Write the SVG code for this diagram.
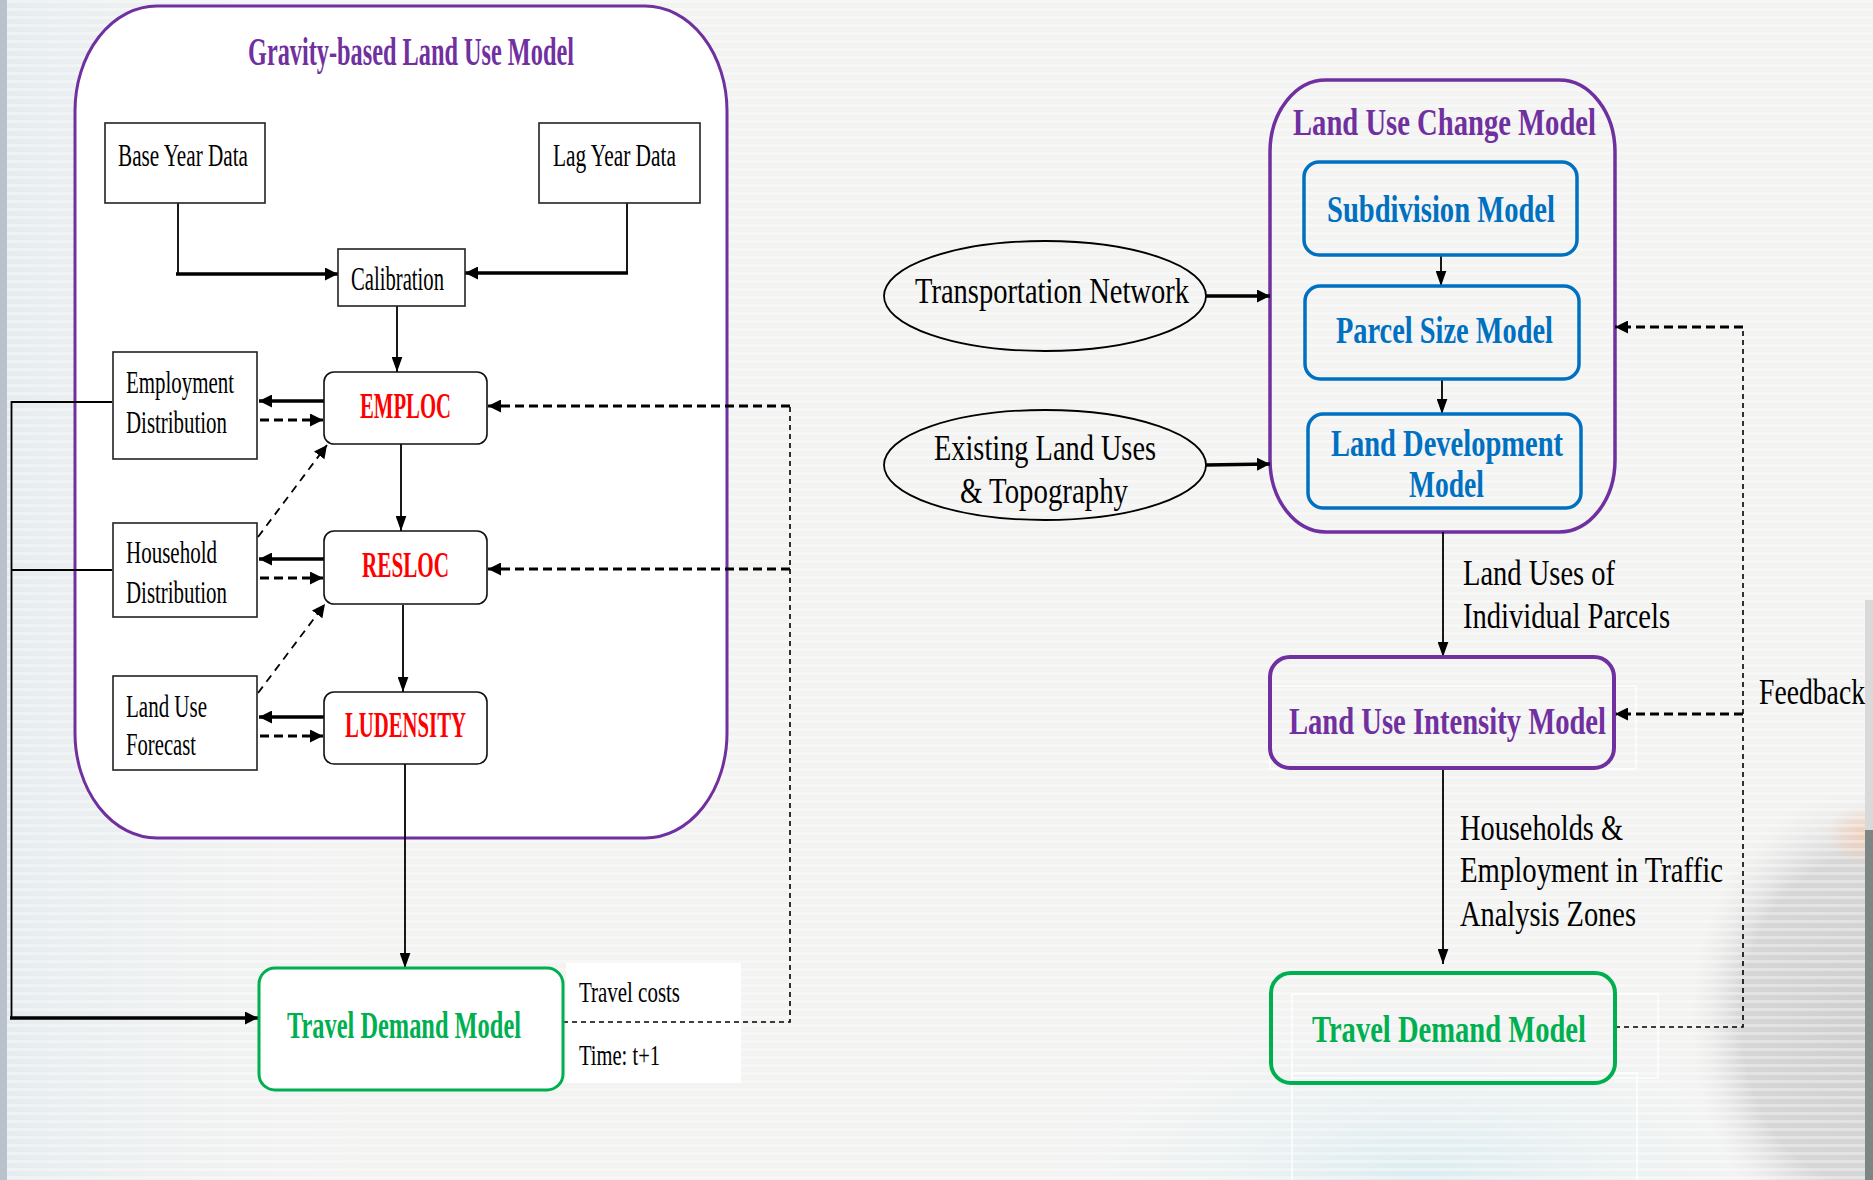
<svg xmlns="http://www.w3.org/2000/svg" width="1873" height="1180" viewBox="0 0 1873 1180">
<style>
.t{font-family:"Liberation Serif","Times New Roman",serif;fill:#000}
.b{font-weight:bold}
.pu{fill:#7030A0}.rd{fill:#FF0000}.gr{fill:#00B050}.bl{fill:#0070C0}
.box{fill:#fff;stroke:#222;stroke-width:1.6}
.rbox{fill:#fff;stroke:#111;stroke-width:1.6}
.ln{stroke:#000;stroke-width:1.8;fill:none}
.thk{stroke-width:3.6}
.dsh{stroke-dasharray:9 5;stroke-width:3}
.dia{stroke-dasharray:8 6;stroke-width:1.8}
.tds{stroke-dasharray:5 4;stroke-width:1.6}
.art{fill:none;stroke:#fff;stroke-width:1.5;opacity:0.9}
</style>
<defs>
<marker id="a" viewBox="0 0 12 12" refX="12" refY="6" markerWidth="13" markerHeight="13" markerUnits="userSpaceOnUse" orient="auto"><path d="M0,0 L12,6 L0,12 z" fill="#000"/></marker>
<marker id="v" viewBox="0 0 14 10" refX="14" refY="5" markerWidth="15" markerHeight="11" markerUnits="userSpaceOnUse" orient="auto"><path d="M0,0 L14,5 L0,10 z" fill="#000"/></marker>
<linearGradient id="lg" x1="0" y1="0" x2="1" y2="0">
<stop offset="0" stop-color="#e6ecef"/><stop offset="1" stop-color="#f3f3f2" stop-opacity="0"/>
</linearGradient>
<radialGradient id="blob" cx="0.5" cy="0.5" r="0.5">
<stop offset="0" stop-color="#cfcfcf"/><stop offset="0.7" stop-color="#d6d6d6"/><stop offset="1" stop-color="#e6e6e6" stop-opacity="0"/>
</radialGradient>
<radialGradient id="org" cx="0.5" cy="0.5" r="0.5">
<stop offset="0" stop-color="#f4c4a8"/><stop offset="1" stop-color="#f4c4a8" stop-opacity="0"/>
</radialGradient>
<radialGradient id="cy" cx="0.5" cy="0.5" r="0.5">
<stop offset="0" stop-color="#dcecf0"/><stop offset="1" stop-color="#eef3f3" stop-opacity="0"/>
</radialGradient>
<pattern id="scan" width="8" height="8" patternUnits="userSpaceOnUse"><rect width="8" height="3" fill="#ffffff" opacity="0.35"/></pattern>
</defs>

<g id="background">
<rect width="1873" height="1180" fill="#f3f3f2"/>
<rect width="420" height="1180" fill="url(#lg)"/>
<ellipse cx="1420" cy="1180" rx="380" ry="180" fill="url(#cy)"/>
<ellipse cx="1860" cy="1020" rx="170" ry="230" fill="url(#blob)"/>
<ellipse cx="1862" cy="835" rx="35" ry="30" fill="url(#org)" opacity="0.7"/>
<rect width="1873" height="1180" fill="url(#scan)"/>
<rect x="0" y="0" width="7" height="1180" fill="#b9c2ca"/>
<rect x="1865" y="600" width="8" height="230" fill="#d9d9d9"/>
<rect x="1865" y="830" width="8" height="350" fill="#7e8585"/>
</g>

<g id="gravity-container">
<rect x="75" y="6" width="652" height="832" rx="82" ry="105" fill="#fff" stroke="#7030A0" stroke-width="3"/>
<text class="t b pu" x="248" y="65" font-size="40" textLength="326" lengthAdjust="spacingAndGlyphs">Gravity-based Land Use Model</text>
</g>

<g id="landuse-change-container">
<rect x="1270" y="80" width="345" height="452" rx="56" ry="72" fill="none" stroke="#7030A0" stroke-width="3.5"/>
<text class="t b pu" x="1293" y="135" font-size="38" textLength="303" lengthAdjust="spacingAndGlyphs">Land Use Change Model</text>
</g>

<g id="artifacts">
<rect x="566" y="963" width="175" height="120" fill="#fff"/>
<rect class="art" x="1270" y="686" width="366" height="83"/>
<rect class="art" x="1292" y="994" width="366" height="84"/>
<rect class="art" x="1292" y="1073" width="345" height="120"/>
</g>

<g id="connectors">
<path class="ln" d="M178,203 V274"/>
<path class="ln thk" d="M176,274 H338" marker-end="url(#a)"/>
<path class="ln" d="M627,203 V273"/>
<path class="ln thk" d="M628,273 H465" marker-end="url(#a)"/>
<path class="ln" d="M397,306 V372" marker-end="url(#v)"/>
<path class="ln thk" d="M324,401 H259" marker-end="url(#a)"/>
<path class="ln dsh" d="M260,420 H323" marker-end="url(#a)"/>
<path class="ln thk" d="M324,559 H259" marker-end="url(#a)"/>
<path class="ln dsh" d="M260,578 H323" marker-end="url(#a)"/>
<path class="ln thk" d="M324,717 H259" marker-end="url(#a)"/>
<path class="ln dsh" d="M260,736 H323" marker-end="url(#a)"/>
<path class="ln dia" d="M258,537 L327,445" marker-end="url(#a)"/>
<path class="ln dia" d="M258,693 L325,604" marker-end="url(#a)"/>
<path class="ln" d="M401,444 V531" marker-end="url(#v)"/>
<path class="ln" d="M403,605 V692" marker-end="url(#v)"/>
<path class="ln" d="M405,764 V968" marker-end="url(#v)"/>
<path class="ln" d="M112,402 H11.5 V1018"/>
<path class="ln" d="M112,570 H11.5"/>
<path class="ln thk" d="M10,1018 H258" marker-end="url(#a)"/>
<path class="ln tds" d="M563,1022 H790 V406"/>
<path class="ln dsh" d="M790,406 H488" marker-end="url(#a)"/>
<path class="ln dsh" d="M790,569 H488" marker-end="url(#a)"/>

<path class="ln thk" d="M1206,296 H1270" marker-end="url(#a)"/>
<path class="ln thk" d="M1206,465 L1270,464" marker-end="url(#a)"/>
<path class="ln" d="M1441,255 V286" marker-end="url(#v)"/>
<path class="ln" d="M1442,379 V414" marker-end="url(#v)"/>
<path class="ln" d="M1443,532 V657" marker-end="url(#v)"/>
<path class="ln" d="M1443,768 V964" marker-end="url(#v)"/>
<path class="ln tds" d="M1615,1027 H1743 V327"/>
<path class="ln dsh" d="M1743,327 H1615" marker-end="url(#a)"/>
<path class="ln dsh" d="M1743,714 H1615" marker-end="url(#a)"/>
</g>

<g id="base-year-data">
<rect class="box" x="105" y="123" width="160" height="80"/>
<text class="t" x="118" y="166" font-size="32" textLength="130" lengthAdjust="spacingAndGlyphs">Base Year Data</text>
</g>
<g id="lag-year-data">
<rect class="box" x="539" y="123" width="161" height="80"/>
<text class="t" x="553" y="166" font-size="32" textLength="123" lengthAdjust="spacingAndGlyphs">Lag Year Data</text>
</g>
<g id="calibration">
<rect class="box" x="338" y="249" width="127" height="57"/>
<text class="t" x="351" y="290" font-size="33" textLength="93" lengthAdjust="spacingAndGlyphs">Calibration</text>
</g>
<g id="employment-distribution">
<rect class="box" x="113" y="352" width="144" height="107"/>
<text class="t" x="126" y="393" font-size="32" textLength="108" lengthAdjust="spacingAndGlyphs">Employment</text>
<text class="t" x="126" y="433" font-size="32" textLength="101" lengthAdjust="spacingAndGlyphs">Distribution</text>
</g>
<g id="household-distribution">
<rect class="box" x="113" y="523" width="144" height="94"/>
<text class="t" x="126" y="563" font-size="32" textLength="91" lengthAdjust="spacingAndGlyphs">Household</text>
<text class="t" x="126" y="603" font-size="32" textLength="101" lengthAdjust="spacingAndGlyphs">Distribution</text>
</g>
<g id="land-use-forecast">
<rect class="box" x="113" y="676" width="144" height="94"/>
<text class="t" x="126" y="717" font-size="32" textLength="81" lengthAdjust="spacingAndGlyphs">Land Use</text>
<text class="t" x="126" y="755" font-size="32" textLength="70" lengthAdjust="spacingAndGlyphs">Forecast</text>
</g>
<g id="emploc">
<rect class="rbox" x="324" y="372" width="163" height="72" rx="10"/>
<text class="t b rd" x="360" y="418" font-size="35" textLength="91" lengthAdjust="spacingAndGlyphs">EMPLOC</text>
</g>
<g id="resloc">
<rect class="rbox" x="324" y="531" width="163" height="73" rx="10"/>
<text class="t b rd" x="362" y="577" font-size="35" textLength="87" lengthAdjust="spacingAndGlyphs">RESLOC</text>
</g>
<g id="ludensity">
<rect class="rbox" x="324" y="692" width="163" height="72" rx="10"/>
<text class="t b rd" x="345" y="737" font-size="35" textLength="121" lengthAdjust="spacingAndGlyphs">LUDENSITY</text>
</g>
<g id="travel-demand-left">
<rect x="259" y="968" width="304" height="122" rx="16" fill="#fff" stroke="#00B050" stroke-width="3"/>
<text class="t b gr" x="287" y="1038" font-size="37" textLength="234" lengthAdjust="spacingAndGlyphs">Travel Demand Model</text>
</g>
<g id="travel-costs-label">
<text class="t" x="579" y="1002" font-size="30" textLength="101" lengthAdjust="spacingAndGlyphs">Travel costs</text>
<text class="t" x="579" y="1065" font-size="30" textLength="81" lengthAdjust="spacingAndGlyphs">Time: t+1</text>
</g>

<g id="transportation-network">
<ellipse cx="1045" cy="296" rx="161" ry="55" fill="none" stroke="#000" stroke-width="1.8"/>
<text class="t" x="915" y="303" font-size="35" textLength="274" lengthAdjust="spacingAndGlyphs">Transportation Network</text>
</g>
<g id="existing-land-uses">
<ellipse cx="1045" cy="465" rx="161" ry="55" fill="none" stroke="#000" stroke-width="1.8"/>
<text class="t" x="934" y="460" font-size="35" textLength="222" lengthAdjust="spacingAndGlyphs">Existing Land Uses</text>
<text class="t" x="960" y="503" font-size="35" textLength="168" lengthAdjust="spacingAndGlyphs">&amp; Topography</text>
</g>
<g id="subdivision-model">
<rect x="1304" y="162" width="273" height="93" rx="15" fill="none" stroke="#0070C0" stroke-width="3.5"/>
<text class="t b bl" x="1327" y="222" font-size="38" textLength="228" lengthAdjust="spacingAndGlyphs">Subdivision Model</text>
</g>
<g id="parcel-size-model">
<rect x="1305" y="286" width="274" height="93" rx="15" fill="none" stroke="#0070C0" stroke-width="3.5"/>
<text class="t b bl" x="1336" y="343" font-size="38" textLength="217" lengthAdjust="spacingAndGlyphs">Parcel Size Model</text>
</g>
<g id="land-development-model">
<rect x="1308" y="414" width="273" height="94" rx="15" fill="none" stroke="#0070C0" stroke-width="3.5"/>
<text class="t b bl" x="1331" y="456" font-size="38" textLength="232" lengthAdjust="spacingAndGlyphs">Land Development</text>
<text class="t b bl" x="1409" y="497" font-size="38" textLength="75" lengthAdjust="spacingAndGlyphs">Model</text>
</g>
<g id="land-uses-label">
<text class="t" x="1463" y="585" font-size="35" textLength="152" lengthAdjust="spacingAndGlyphs">Land Uses of</text>
<text class="t" x="1463" y="628" font-size="35" textLength="207" lengthAdjust="spacingAndGlyphs">Individual Parcels</text>
</g>
<g id="land-use-intensity-model">
<rect x="1270" y="657" width="344" height="111" rx="20" fill="none" stroke="#7030A0" stroke-width="4"/>
<text class="t b pu" x="1289" y="734" font-size="38" textLength="317" lengthAdjust="spacingAndGlyphs">Land Use Intensity Model</text>
</g>
<g id="households-label">
<text class="t" x="1460" y="840" font-size="35" textLength="163" lengthAdjust="spacingAndGlyphs">Households &amp;</text>
<text class="t" x="1460" y="882" font-size="35" textLength="263" lengthAdjust="spacingAndGlyphs">Employment in Traffic</text>
<text class="t" x="1460" y="926" font-size="35" textLength="176" lengthAdjust="spacingAndGlyphs">Analysis Zones</text>
</g>
<g id="travel-demand-right">
<rect x="1271" y="973" width="344" height="110" rx="20" fill="none" stroke="#00B050" stroke-width="4"/>
<text class="t b gr" x="1312" y="1042" font-size="38" textLength="274" lengthAdjust="spacingAndGlyphs">Travel Demand Model</text>
</g>
<g id="feedback-label">
<text class="t" x="1759" y="704" font-size="35" textLength="106" lengthAdjust="spacingAndGlyphs">Feedback</text>
</g>
</svg>
